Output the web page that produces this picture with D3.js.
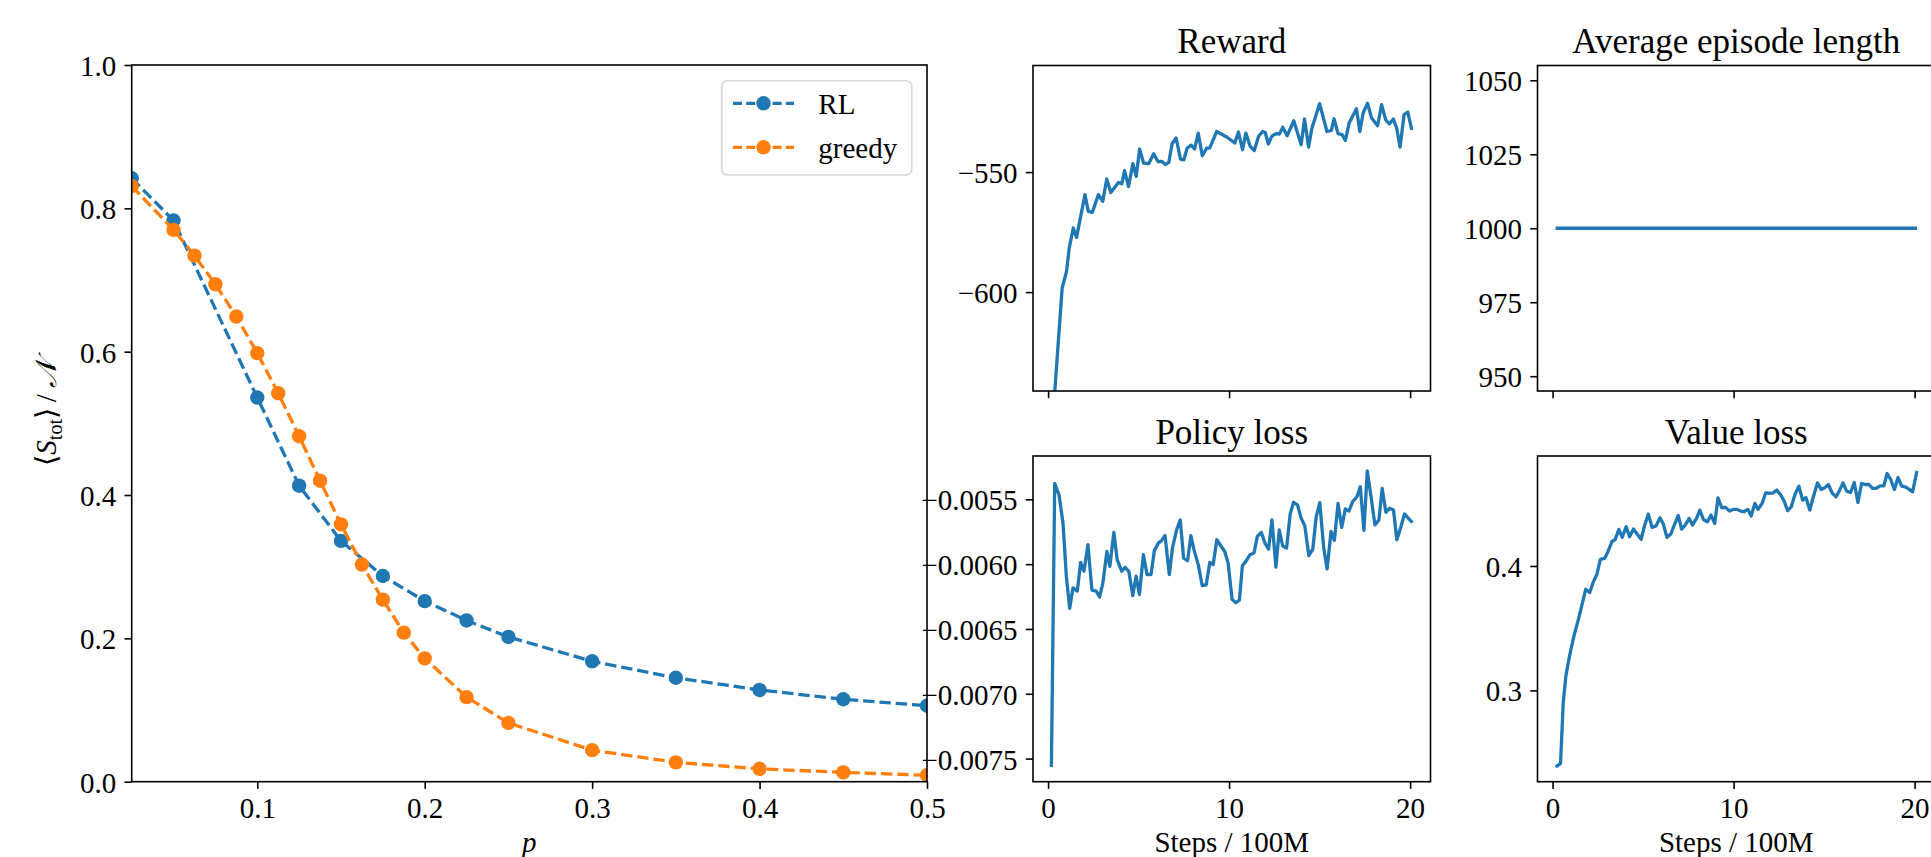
<!DOCTYPE html>
<html><head><meta charset="utf-8">
<script src="https://cdn.jsdelivr.net/npm/d3@7"></script>
<style>
body{margin:0;background:#fff;}
svg{display:block;}
</style>
</head><body>
<svg id="chart" width="1931" height="857"></svg>
<script>
// ---------------- data ----------------
const pRL = [0.025,0.05,0.1,0.125,0.15,0.175,0.2,0.225,0.25,0.3,0.35,0.4,0.45,0.5];
const sRL = [0.842,0.783,0.536,0.413,0.336,0.287,0.252,0.225,0.202,0.168,0.145,0.128,0.115,0.106];
const pGreedy = [0.025,0.05,0.0625,0.075,0.0875,0.1,0.1125,0.125,0.1375,0.15,0.1625,0.175,0.1875,0.2,0.225,0.25,0.3,0.35,0.4,0.45,0.5];
const sGreedy = [0.831,0.770,0.734,0.694,0.649,0.598,0.542,0.482,0.420,0.359,0.303,0.254,0.208,0.172,0.118,0.082,0.044,0.027,0.018,0.013,0.009];
const seriesNames = ["RL","greedy"];

const rewardSteps = [0.183,0.778,1.019,1.167,1.389,1.574,2.037,2.222,2.444,2.778,3.019,3.241,3.463,3.889,4.074,4.222,4.444,4.685,4.870,5.056,5.278,5.556,5.833,6.074,6.296,6.481,6.667,6.852,7.074,7.315,7.5,7.685,7.907,8.093,8.296,8.519,8.759,8.926,9.315,9.870,10.315,10.519,10.741,10.926,11.167,11.389,11.630,11.852,12.0,12.167,12.370,12.593,12.778,12.963,13.204,13.574,13.981,14.167,14.389,14.574,15.0,15.407,15.648,15.796,16.019,16.241,16.426,16.630,17.037,17.222,17.407,17.648,17.870,18.204,18.426,18.648,18.852,19.074,19.259,19.444,19.667,19.870,20.093];
const rewardValues = [-661,-598.3,-591.4,-581.7,-573.3,-577.2,-559.4,-566.4,-566.8,-559.4,-562.2,-552.9,-558.5,-554.3,-554.9,-549.4,-556.0,-546.5,-551.8,-540.4,-546.3,-546.5,-542.4,-545.6,-545.6,-546.9,-546.0,-538.2,-535.8,-544.6,-544.9,-540.0,-538.8,-540.4,-533.8,-543.2,-540.0,-540.0,-533.1,-535.4,-537.9,-533.3,-540.7,-533.8,-539.3,-541.0,-535.1,-533.1,-533.5,-538.3,-534.9,-534.0,-534.2,-531.3,-534.9,-528.6,-538.6,-527.9,-539.6,-531.7,-521.5,-533.1,-532.6,-527.8,-534.0,-534.4,-536.8,-529.6,-523.6,-533.1,-525.4,-521.3,-527.5,-530.7,-521.9,-528.2,-529.9,-527.9,-531.7,-539.6,-526.1,-525.0,-532.4];

const epSteps = [0.165,20.128];
const epLength = [1000,1000];

const policySteps = [0.183,0.367,0.606,0.826,1.009,1.193,1.376,1.615,1.798,1.982,2.202,2.422,2.661,2.844,3.028,3.248,3.413,3.633,3.817,4.073,4.257,4.459,4.679,4.862,5.046,5.266,5.468,5.688,5.872,6.092,6.275,6.459,6.697,6.881,7.101,7.303,7.486,7.706,7.890,8.073,8.294,8.514,8.734,8.936,9.119,9.321,9.541,9.761,9.945,10.165,10.367,10.569,10.734,10.954,11.156,11.376,11.560,11.780,11.982,12.183,12.367,12.587,12.771,12.954,13.174,13.376,13.560,13.780,13.982,14.183,14.404,14.624,14.807,15.009,15.229,15.413,15.633,15.817,16.018,16.220,16.422,16.624,16.826,17.064,17.248,17.450,17.633,17.853,18.055,18.275,18.459,18.661,18.862,19.083,19.266,19.468,19.688,19.908,20.128];
const policyLoss = [-75.64e-4,-53.77e-4,-54.67e-4,-56.84e-4,-60.93e-4,-63.41e-4,-61.83e-4,-62.08e-4,-59.86e-4,-60.55e-4,
-58.50e-4,-62.01e-4,-62.08e-4,-62.54e-4,-61.44e-4,-59.02e-4,-60.17e-4,-57.56e-4,-59.65e-4,-60.55e-4,
-60.24e-4,-60.55e-4,-62.42e-4,-60.93e-4,-62.34e-4,-59.27e-4,-60.81e-4,-60.81e-4,-58.94e-4,-58.38e-4,
-58.17e-4,-57.79e-4,-60.81e-4,-58.68e-4,-57.35e-4,-56.59e-4,-59.53e-4,-59.73e-4,-57.81e-4,-58.96e-4,
-60.04e-4,-61.65e-4,-61.60e-4,-59.86e-4,-60.04e-4,-58.12e-4,-58.58e-4,-59.02e-4,-59.91e-4,-62.72e-4,
-62.98e-4,-62.77e-4,-60.12e-4,-59.73e-4,-59.27e-4,-59.14e-4,-57.86e-4,-57.56e-4,-58.38e-4,-58.84e-4,
-56.59e-4,-60.22e-4,-57.35e-4,-58.58e-4,-58.76e-4,-56.13e-4,-55.23e-4,-55.43e-4,-56.46e-4,-57.05e-4,
-59.35e-4,-58.84e-4,-56.38e-4,-55.26e-4,-58.76e-4,-60.37e-4,-57.48e-4,-58.17e-4,-55.31e-4,-57.17e-4,
-55.74e-4,-55.90e-4,-55.18e-4,-54.80e-4,-54.03e-4,-57.40e-4,-52.80e-4,-54.92e-4,-56.97e-4,-56.59e-4,
-54.16e-4,-56.00e-4,-55.69e-4,-55.82e-4,-58.12e-4,-57.23e-4,-56.13e-4,-56.46e-4,-56.79e-4];

const valueSteps = [0.165,0.440,0.586,0.733,0.861,1.007,1.172,1.319,1.465,1.648,1.832,2.051,2.234,2.454,2.637,2.875,3.059,3.278,3.462,3.663,3.846,4.066,4.249,4.469,4.670,4.890,5.073,5.293,5.495,5.714,5.934,6.117,6.319,6.538,6.722,6.941,7.125,7.326,7.546,7.729,7.949,8.132,8.333,8.553,8.755,8.956,9.139,9.341,9.560,9.780,9.982,10.183,10.385,10.568,10.788,10.971,11.172,11.355,11.575,11.777,11.978,12.179,12.381,12.582,12.784,12.985,13.187,13.388,13.608,13.810,13.993,14.212,14.414,14.634,14.835,15.037,15.238,15.440,15.659,15.842,16.044,16.245,16.465,16.667,16.868,17.070,17.271,17.473,17.674,17.875,18.095,18.297,18.480,18.681,18.883,19.084,19.286,19.487,19.689,19.890,20.128];
const valueLoss = [0.2385,0.2412,0.2898,0.3112,0.3219,0.3326,0.3433,0.3513,0.3594,0.3701,
0.3813,0.3786,0.3866,0.3936,0.4053,0.4061,0.4115,0.4195,0.4214,0.4294,
0.4230,0.4316,0.4235,0.4297,0.4257,0.4214,0.4321,0.4417,0.4310,0.4321,
0.4388,0.4337,0.4230,0.4257,0.4329,0.4406,0.4297,0.4329,0.4382,0.4329,
0.4382,0.4449,0.4374,0.4356,0.4409,0.4342,0.4548,0.4468,0.4471,0.4441,
0.4455,0.4455,0.4441,0.4436,0.4455,0.4401,0.4503,0.4455,0.4503,0.4588,
0.4583,0.4588,0.4610,0.4575,0.4524,0.4444,0.4476,0.4575,0.4642,0.4529,
0.4551,0.4449,0.4561,0.4668,0.4615,0.4628,0.4655,0.4588,0.4556,0.4604,
0.4668,0.4602,0.4591,0.4671,0.4511,0.4663,0.4655,0.4655,0.4623,0.4623,
0.4644,0.4644,0.4743,0.4695,0.4615,0.4711,0.4642,0.4636,0.4618,0.4596,
0.4765];

// tick values
const mainXTicks = [0.1,0.2,0.3,0.4,0.5];
const mainYTicks = [0.0,0.2,0.4,0.6,0.8,1.0];
const stepTicks = [0,10,20];
const rewardTicks = [-600,-550];
const epTicks = [950,975,1000,1025,1050];
const policyTicks = [-0.0075,-0.0070,-0.0065,-0.0060,-0.0055];
const valueTicks = [0.3,0.4];
const titles = ["Reward","Average episode length","Policy loss","Value loss"];

// ---------------- drawing ----------------
const svg = d3.select("#chart");
const FONT = "'Liberation Serif','Times New Roman',Times,serif";
const FS = 29, TFS = 35;
const BLUE = "#1f77b4", ORANGE = "#ff7f0e";
const TICK = 7.2, SPW = 1.6, LW = 3.3, MR = 7.2;
let clipN = 0;

function pad(ext, f){ const d=(ext[1]-ext[0])*f; return [ext[0]-d, ext[1]+d]; }

function makePanel(box, x, y, o){
  const g = svg.append("g");
  const id = "clip" + (clipN++);
  svg.append("clipPath").attr("id", id).append("rect")
    .attr("x", box.l).attr("y", box.t).attr("width", box.r - box.l).attr("height", box.b - box.t);
  const plot = g.append("g").attr("clip-path", `url(#${id})`);
  const xa = d3.axisBottom(x).tickValues(o.xTicks).tickSize(TICK).tickSizeOuter(0).tickPadding(8.5)
    .tickFormat(o.xFmt ? o.xFmt : () => "");
  const ya = d3.axisLeft(y).tickValues(o.yTicks).tickSize(TICK).tickSizeOuter(0).tickPadding(8.3)
    .tickFormat(o.yFmt);
  const gx = g.append("g").attr("transform", `translate(0,${box.b})`).call(xa);
  const gy = g.append("g").attr("transform", `translate(${box.l},0)`).call(ya);
  [gx, gy].forEach(a => {
    a.attr("font-family", FONT).attr("font-size", FS);
    a.select(".domain").remove();
    a.selectAll(".tick line").attr("stroke", "#000").attr("stroke-width", SPW);
    a.selectAll(".tick text").attr("fill", "#000");
  });
  gy.selectAll(".tick text").attr("dy", "0.36em");
  g.append("rect").attr("x", box.l).attr("y", box.t).attr("width", box.r - box.l).attr("height", box.b - box.t)
    .attr("fill", "none").attr("stroke", "#000").attr("stroke-width", SPW).attr("class", "frame");
  if (o.title) {
    g.append("text").attr("x", (box.l + box.r) / 2).attr("y", box.t - 12.5)
      .attr("text-anchor", "middle").attr("font-family", FONT).attr("font-size", TFS).attr("fill", "#000")
      .text(o.title);
  }
  if (o.xLabel) {
    g.append("text").attr("x", (box.l + box.r) / 2).attr("y", 852)
      .attr("text-anchor", "middle").attr("font-family", FONT).attr("font-size", FS).attr("fill", "#000")
      .attr("font-style", o.xLabelItalic ? "italic" : "normal")
      .text(o.xLabel);
  }
  g.select(".frame").raise();
  return {g, plot};
}

// ---------- main plot ----------
const mainBox = {l:131.7, r:927, t:65, b:781.7};
const xMain = d3.scaleLinear().domain([0.025, 0.5]).range([mainBox.l, mainBox.r]);
const yMain = d3.scaleLinear().domain([0, 1]).range([mainBox.b, mainBox.t]);
const main = makePanel(mainBox, xMain, yMain, {
  xTicks: mainXTicks, yTicks: mainYTicks, xFmt: d3.format(".1f"), yFmt: d3.format(".1f"),
  xLabel: "p", xLabelItalic: true
});
const DASH = "11.4,4.9";
[[pRL, sRL, BLUE], [pGreedy, sGreedy, ORANGE]].forEach(([xs, ys, c]) => {
  const pts = xs.map((v, i) => [xMain(v), yMain(ys[i])]);
  main.plot.append("path").attr("d", d3.line()(pts)).attr("fill", "none")
    .attr("stroke", c).attr("stroke-width", LW).attr("stroke-dasharray", DASH);
  main.plot.selectAll(null).data(pts).enter().append("circle")
    .attr("cx", d => d[0]).attr("cy", d => d[1]).attr("r", MR).attr("fill", c);
});
main.g.select(".frame").raise();

// y label
const yl = svg.append("text").attr("font-family", FONT).attr("font-size", FS).attr("fill", "#000")
  .attr("text-anchor", "middle").attr("transform", "translate(56,413) rotate(-90)");
yl.append("tspan").text("\u27E8");
yl.append("tspan").attr("font-style", "italic").text("S");
yl.append("tspan").attr("font-size", 20).attr("dy", 6).text("tot");
yl.append("tspan").attr("dy", -6).text("\u27E9\u2009/\u2009");
yl.append("tspan").attr("font-style", "italic").text("\uD835\uDCA9");

// legend
const lg = svg.append("g");
lg.append("rect").attr("x", 721.7).attr("y", 80.7).attr("width", 190).attr("height", 94.3).attr("rx", 5.8)
  .attr("fill", "#fff").attr("fill-opacity", 0.8).attr("stroke", "#d6d6d6").attr("stroke-width", SPW);
[[BLUE, 103.3], [ORANGE, 147.3]].forEach(([c, yy], i) => {
  lg.append("line").attr("x1", 733).attr("x2", 794).attr("y1", yy).attr("y2", yy)
    .attr("stroke", c).attr("stroke-width", LW).attr("stroke-dasharray", "9,4.2");
  lg.append("circle").attr("cx", 763.5).attr("cy", yy).attr("r", MR).attr("fill", c);
  lg.append("text").attr("x", 818.3).attr("y", yy + 10.3).attr("font-family", FONT).attr("font-size", FS)
    .attr("fill", "#000").text(seriesNames[i]);
});

// ---------- training panels ----------
const stepDomain = pad(d3.extent(policySteps.concat(valueSteps)), 0.05);
const colL = {l:1033, r:1430.5}, colR = {l:1537.5, r:1935};
const rowT = {t:65.5, b:391}, rowB = {t:456, b:781.7};

function trainPanel(col, row, steps, vals, yDomain, yTicks, yFmt, title, bottom){
  const box = {l:col.l, r:col.r, t:row.t, b:row.b};
  const x = d3.scaleLinear().domain(stepDomain).range([box.l, box.r]);
  const y = d3.scaleLinear().domain(yDomain).range([box.b, box.t]);
  const p = makePanel(box, x, y, {
    xTicks: stepTicks, yTicks: yTicks, xFmt: bottom ? d3.format("d") : null, yFmt: yFmt,
    title: title, xLabel: bottom ? "Steps / 100M" : null
  });
  const pts = steps.map((s, i) => [x(s), y(vals[i])]);
  p.plot.append("path").attr("d", d3.line()(pts)).attr("fill", "none")
    .attr("stroke", BLUE).attr("stroke-width", LW).attr("stroke-linejoin", "round");
  p.g.select(".frame").raise();
}

trainPanel(colL, rowT, rewardSteps, rewardValues, [-641.2, -505.6], rewardTicks, d3.format("d"), titles[0], false);
trainPanel(colR, rowT, epSteps, epLength, [945, 1055], epTicks, d3.format("d"), titles[1], false);
trainPanel(colL, rowB, policySteps, policyLoss, pad(d3.extent(policyLoss), 0.05), policyTicks, d3.format(".4f"), titles[2], true);
trainPanel(colR, rowB, valueSteps, valueLoss, pad(d3.extent(valueLoss), 0.05), valueTicks, d3.format(".1f"), titles[3], true);
</script>
</body></html>
